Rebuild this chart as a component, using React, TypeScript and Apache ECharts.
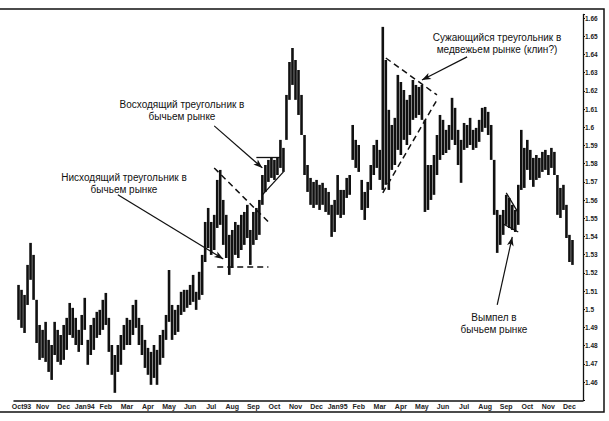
import React, { useEffect, useRef } from 'react';
import * as echarts from 'echarts';

const monthLabels = ['Oct93', 'Nov', 'Dec', 'Jan94', 'Feb', 'Mar', 'Apr', 'May', 'Jun', 'Jul', 'Aug', 'Sep', 'Oct', 'Nov', 'Dec', 'Jan95', 'Feb', 'Mar', 'Apr', 'May', 'Jun', 'Jul', 'Aug', 'Sep', 'Oct', 'Nov', 'Dec'];
const BARS_PER_MONTH = 7;
const LABEL_OFFSET = 2;
const CATEGORY_COUNT = 189;
const FIRST_BAR = 1;

const highs = [
  1.5134, 1.5107, 1.5079, 1.5244, 1.5365, 1.5299, 1.5052, 1.4914, 1.4887, 1.4931,
  1.4832, 1.4804, 1.4931, 1.4887, 1.4859, 1.4914, 1.4953, 1.5035, 1.5008, 1.4953,
  1.4887, 1.4969, 1.5063, 1.4832, 1.4914, 1.4953, 1.4986, 1.4997, 1.5052, 1.5090,
  1.4953, 1.4804, 1.4749, 1.4804, 1.4859, 1.4914, 1.4953, 1.4942, 1.5024, 1.5052,
  1.4953, 1.4914, 1.4832, 1.4788, 1.4766, 1.4804, 1.4777, 1.4859, 1.4887, 1.4969,
  1.5216, 1.5024, 1.4997, 1.5024, 1.5096, 1.5107, 1.5107, 1.5134, 1.5189, 1.5096,
  1.5206, 1.5299, 1.5480, 1.5557, 1.5480, 1.5519, 1.5711, 1.5766, 1.5601, 1.5519,
  1.5409, 1.5436, 1.5480, 1.5464, 1.5519, 1.5535, 1.5574, 1.5436, 1.5535, 1.5557,
  1.5601, 1.5738, 1.5793, 1.5821, 1.5832, 1.5821, 1.5837, 1.5931, 1.5887, 1.6178,
  1.6359, 1.6436, 1.6370, 1.6315, 1.6178, 1.5958, 1.5793, 1.5722, 1.5700, 1.5711,
  1.5684, 1.5695, 1.5667, 1.5645, 1.5574, 1.5601, 1.5738, 1.5656, 1.5656, 1.5722,
  1.5738, 1.6013, 1.5931, 1.5903, 1.5711, 1.5645, 1.5700, 1.5793, 1.5903, 1.5931,
  1.5876, 1.6552, 1.6370, 1.6096, 1.6013, 1.6052, 1.6288, 1.6249, 1.6205, 1.6151,
  1.6178, 1.6260, 1.6233, 1.6222, 1.6233, 1.6041, 1.5793, 1.5793, 1.5848, 1.5958,
  1.6068, 1.6041, 1.5986, 1.6013, 1.6162, 1.6107, 1.5986, 1.5931, 1.6024, 1.6013,
  1.6052, 1.5986, 1.5997, 1.6041, 1.6107, 1.6112, 1.6085, 1.6013, 1.5821, 1.5546,
  1.5519, 1.5546, 1.5629, 1.5612, 1.5574, 1.5546, 1.5684, 1.5986, 1.5887, 1.5931,
  1.5876, 1.5832, 1.5848, 1.5832, 1.5865, 1.5876, 1.5848, 1.5887, 1.5865, 1.5738,
  1.5667, 1.5684, 1.5574, 1.5409, 1.5381,
];

const lows = [
  1.4942, 1.4898, 1.4870, 1.5024, 1.5162, 1.5052, 1.4815, 1.4722, 1.4733, 1.4711,
  1.4656, 1.4612, 1.4749, 1.4711, 1.4695, 1.4722, 1.4777, 1.4859, 1.4843, 1.4804,
  1.4766, 1.4804, 1.4887, 1.4695, 1.4749, 1.4777, 1.4843, 1.4859, 1.4887, 1.4914,
  1.4766, 1.4640, 1.4541, 1.4656, 1.4695, 1.4777, 1.4804, 1.4804, 1.4859, 1.4898,
  1.4804, 1.4749, 1.4678, 1.4640, 1.4585, 1.4623, 1.4585, 1.4695, 1.4733, 1.4832,
  1.4931, 1.4832, 1.4859, 1.4876, 1.4969, 1.4986, 1.5008, 1.5024, 1.5041, 1.4997,
  1.5052, 1.5079, 1.5260, 1.5337, 1.5299, 1.5326, 1.5447, 1.5464, 1.5354, 1.5282,
  1.5189, 1.5227, 1.5299, 1.5282, 1.5326, 1.5354, 1.5392, 1.5244, 1.5354, 1.5381,
  1.5409, 1.5574, 1.5645, 1.5700, 1.5722, 1.5711, 1.5738, 1.5777, 1.5755, 1.5931,
  1.6151, 1.6233, 1.6151, 1.6068, 1.5958, 1.5738, 1.5645, 1.5574, 1.5557, 1.5574,
  1.5546, 1.5574, 1.5535, 1.5519, 1.5398, 1.5425, 1.5519, 1.5502, 1.5519, 1.5612,
  1.5629, 1.5821, 1.5777, 1.5755, 1.5546, 1.5491, 1.5557, 1.5656, 1.5738, 1.5777,
  1.5711, 1.5656, 1.5684, 1.5656, 1.5766, 1.5793, 1.5876, 1.5848, 1.5931, 1.5903,
  1.5958, 1.6041, 1.6052, 1.6068, 1.6041, 1.5535, 1.5546, 1.5601, 1.5629, 1.5738,
  1.5821, 1.5848, 1.5859, 1.5876, 1.5931, 1.5903, 1.5793, 1.5695, 1.5876, 1.5887,
  1.5903, 1.5876, 1.5887, 1.5920, 1.5975, 1.5997, 1.5958, 1.5821, 1.5519, 1.5310,
  1.5354, 1.5409, 1.5464, 1.5447, 1.5436, 1.5425, 1.5464, 1.5656, 1.5667, 1.5766,
  1.5711, 1.5673, 1.5711, 1.5722, 1.5755, 1.5766, 1.5738, 1.5777, 1.5738, 1.5519,
  1.5502, 1.5546, 1.5392, 1.5260, 1.5244,
];

// pattern outlines, in [bar index, price]
const dashedLines = [
  [[66, 1.5777], [84, 1.548]],
  [[67, 1.5233], [84, 1.5233]],
  [[123, 1.6381], [140, 1.6178]],
  [[122, 1.564], [140, 1.6151]],
];
const solidLines = [
  [[80, 1.5837], [88, 1.5837]],
  [[82, 1.5629], [89, 1.5755]],
  [[163, 1.564], [167, 1.553]],
  [[162, 1.5469], [167, 1.5425]],
];
const arrows = [
  [[66, 1.6008], [82, 1.5777]],
  [[34, 1.5629], [69, 1.5277]],
  [[150, 1.6387], [135, 1.626]],
  [[160, 1.5024], [165, 1.5398]],
];

const notes = [
  { text: 'Восходящий треугольник в\nбычьем рынке', x: 182, y: 98 },
  { text: 'Нисходящий треугольник в\nбычьем рынке', x: 124, y: 171 },
  { text: 'Сужающийся треугольник в\nмедвежьем рынке (клин?)', x: 497, y: 31 },
  { text: 'Вымпел в\nбычьем рынке', x: 494, y: 311 },
];

const FONT = '"Liberation Sans", Arial, sans-serif';

export default function App() {
  const ref = useRef<HTMLDivElement>(null);
  useEffect(() => {
    if (!ref.current) return;
    const chart = echarts.init(ref.current, null, { renderer: 'svg' });
    const categories = Array.from({ length: CATEGORY_COUNT }, (_, i) => String(i));
    const bars = highs.map((h, k) => [k + FIRST_BAR, h, lows[k]]);

    const lineData: any[] = [];
    dashedLines.forEach(([a, b]) => {
      lineData.push([
        { coord: a, symbol: 'none', lineStyle: { type: [6, 4], width: 1.5, color: '#111' } },
        { coord: b, symbol: 'none' },
      ]);
    });
    solidLines.forEach(([a, b]) => {
      lineData.push([
        { coord: a, symbol: 'none', lineStyle: { type: 'solid', width: 1.3, color: '#111' } },
        { coord: b, symbol: 'none' },
      ]);
    });
    arrows.forEach(([a, b]) => {
      lineData.push([
        { coord: a, symbol: 'none', lineStyle: { type: 'solid', width: 1.2, color: '#111' } },
        { coord: b, symbol: 'arrow', symbolSize: [5, 9] },
      ]);
    });

    chart.setOption({
      animation: false,
      backgroundColor: '#fff',
      textStyle: { fontFamily: FONT },
      grid: { left: 14, right: 26, top: 14.5, bottom: 20.7 },
      xAxis: {
        type: 'category',
        data: categories,
        boundaryGap: true,
        axisLine: { show: true, lineStyle: { color: '#111', width: 1.5 } },
        axisTick: { show: false },
        splitLine: { show: false },
        axisLabel: {
          interval: (idx: number) =>
            idx >= LABEL_OFFSET && (idx - LABEL_OFFSET) % BARS_PER_MONTH === 0 &&
            (idx - LABEL_OFFSET) / BARS_PER_MONTH < monthLabels.length,
          formatter: (v: string) => monthLabels[(Number(v) - LABEL_OFFSET) / BARS_PER_MONTH] ?? '',
          fontSize: 7,
          fontWeight: 'bold',
          color: '#222',
          margin: 3,
          fontFamily: FONT,
        },
      },
      yAxis: {
        type: 'value',
        position: 'right',
        min: 1.45,
        max: 1.662,
        interval: 0.01,
        axisLine: { show: true, lineStyle: { color: '#111', width: 1.3 } },
        axisTick: { show: true, length: 2, lineStyle: { color: '#111' } },
        splitLine: { show: false },
        axisLabel: {
          margin: 2,
          fontSize: 6.5,
          fontWeight: 'bold',
          color: '#222',
          fontFamily: FONT,
          formatter: (v: number) => {
            const r = Math.round(v * 100) / 100;
            if (Math.abs(v - r) > 0.001 || r < 1.455) return '';
            return r.toFixed(2).replace(/0$/, '');
          },
        },
      },
      series: [
        {
          type: 'custom',
          data: bars,
          silent: true,
          renderItem: (params: any, api: any) => {
            const i = api.value(0);
            const p1 = api.coord([i, api.value(1)]);
            const p2 = api.coord([i, api.value(2)]);
            return {
              type: 'line',
              shape: { x1: p1[0], y1: p1[1], x2: p2[0], y2: p2[1] },
              style: { stroke: '#111', lineWidth: 2.6 },
            };
          },
          markLine: {
            silent: true,
            animation: false,
            symbol: ['none', 'none'],
            label: { show: false },
            emphasis: { disabled: true },
            data: lineData,
          },
        },
      ],
      graphic: [
        {
          type: 'polyline',
          silent: true,
          shape: { points: [[0, 9], [604, 9], [604, 412], [0, 412]] },
          style: { stroke: '#111', lineWidth: 1.5, fill: 'none' },
        },
        ...notes.map((n) => ({
          type: 'text',
          silent: true,
          x: n.x,
          y: n.y,
          style: {
            text: n.text,
            align: 'center',
            textAlign: 'center',
            verticalAlign: 'top',
            textVerticalAlign: 'top',
            fontSize: 10,
            lineHeight: 12,
            fontFamily: FONT,
            fill: '#111',
          },
        })),
      ],
    });
    return () => chart.dispose();
  }, []);
  return (
    <div
      ref={ref}
      style={{ position: 'fixed', left: 0, top: 0, width: 609, height: 421, background: '#fff' }}
    />
  );
}
